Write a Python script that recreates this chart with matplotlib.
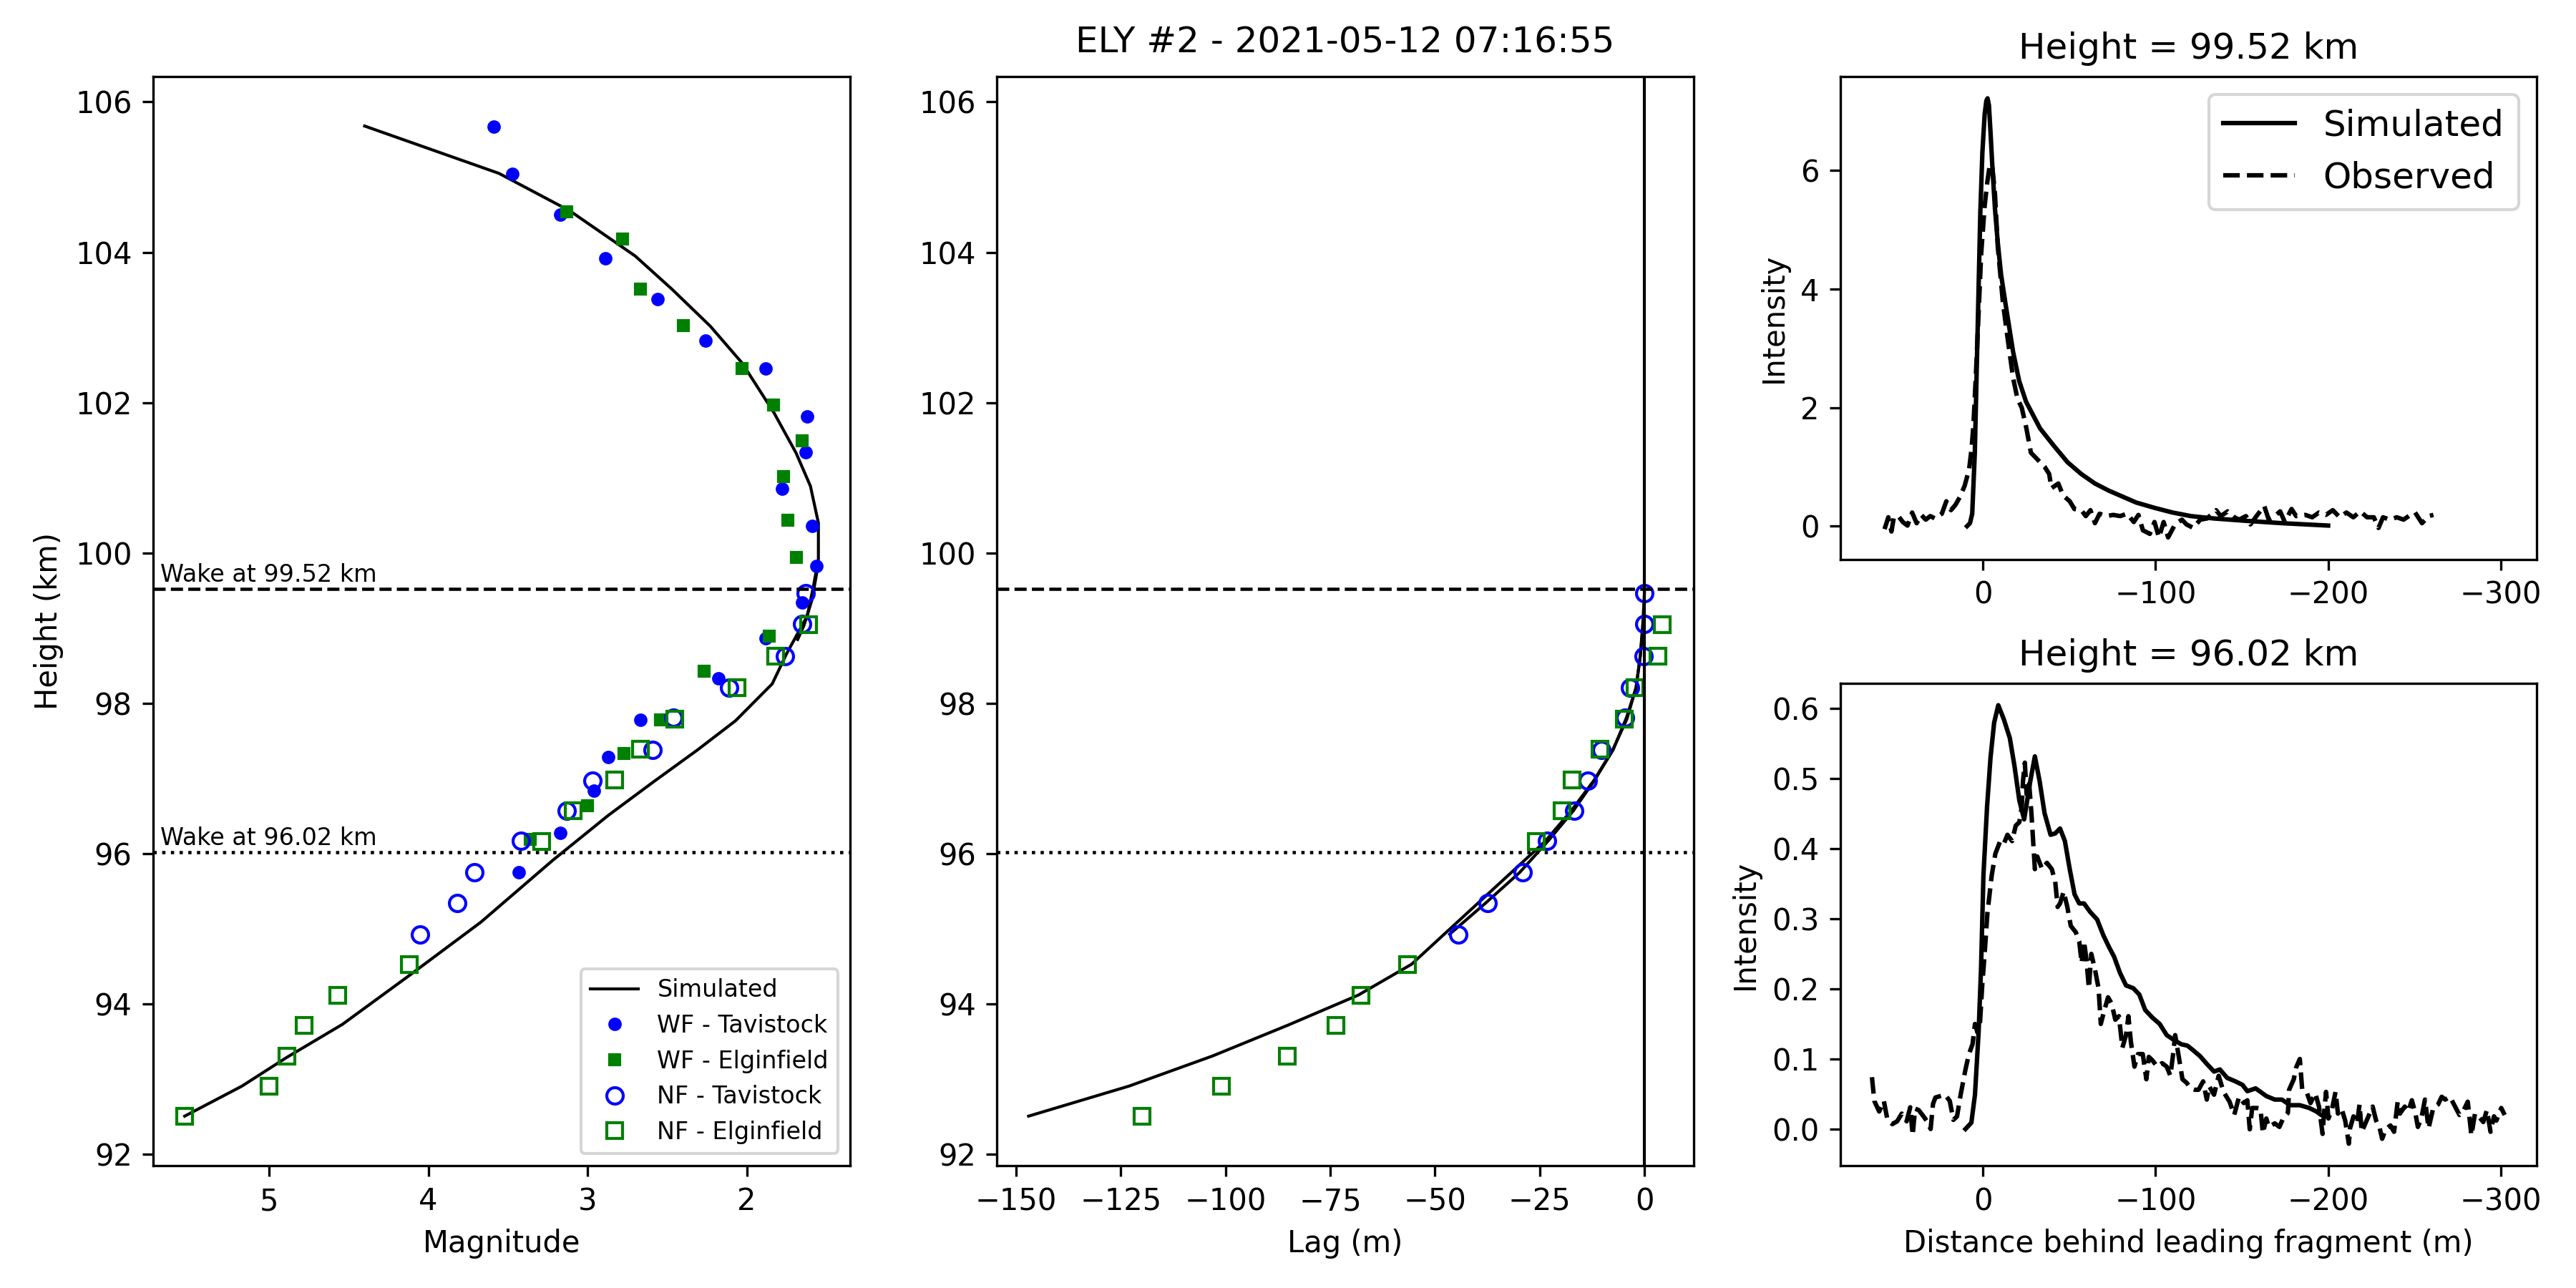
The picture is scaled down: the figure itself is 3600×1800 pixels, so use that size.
import numpy as np
import matplotlib
matplotlib.use("Agg")
import matplotlib.pyplot as plt
from matplotlib.ticker import MultipleLocator

# wake heights (km)
wake_heights = [99.52, 96.02]
wake_styles = ['--', ':']

# simulated magnitude along the trajectory
sim_height = [105.68, 105.05, 104.55, 103.95, 103.51, 103.02, 102.53, 101.87, 101.33,
              100.89, 100.40, 99.92, 99.57, 99.16, 98.97, 98.66, 98.26, 97.77, 97.38,
              96.95, 96.51, 95.91, 95.09, 94.38, 93.73, 93.29, 92.91, 92.51]
sim_mag = [4.40, 3.556, 3.11, 2.70, 2.47, 2.23, 2.03, 1.83, 1.69,
           1.60, 1.55, 1.55, 1.58, 1.62, 1.67, 1.75, 1.84, 2.07, 2.31,
           2.59, 2.87, 3.22, 3.67, 4.12, 4.54, 4.89, 5.17, 5.53]
sim2_height = [99.86, 99.38, 99.04, 98.85]
sim2_mag = [1.55, 1.59, 1.64, 1.68]

# wide field observations
wf_tav_height = [105.67, 105.04, 104.50, 103.92, 103.38, 102.83, 102.45, 101.82, 101.34, 100.86,
                 100.36, 99.83, 99.34, 98.87, 98.33, 97.78, 97.29, 96.84, 96.28, 95.75]
wf_tav_mag = [3.59, 3.47, 3.17, 2.89, 2.56, 2.26, 1.88, 1.62, 1.63, 1.78,
              1.59, 1.56, 1.65, 1.88, 2.18, 2.67, 2.87, 2.96, 3.17, 3.43]
wf_elg_height = [104.54, 104.18, 103.51, 103.03, 102.45, 101.97, 101.49, 101.02, 100.44, 99.94,
                 98.89, 98.43, 97.78, 97.33, 96.64, 96.19]
wf_elg_mag = [3.13, 2.78, 2.67, 2.40, 2.03, 1.83, 1.65, 1.77, 1.74, 1.69,
              1.86, 2.27, 2.54, 2.77, 3.00, 3.36]

# narrow field observations
nf_tav_height = [99.47, 99.06, 98.63, 98.21, 97.81, 97.38, 96.97, 96.57, 96.17, 95.75, 95.34, 94.93]
nf_tav_mag = [1.63, 1.65, 1.76, 2.11, 2.46, 2.59, 2.97, 3.13, 3.42, 3.71, 3.82, 4.05]
nf_tav_lag = [0.0, 0.0, -0.2, -3.4, -4.6, -10.2, -13.6, -16.8, -23.2, -29.0, -37.4, -44.5]
nf_tav_sim_lag = [0.0, -0.4, -1.0, -2.0, -4.3, -7.5, -12.0, -17.0, -23.0, -29.8, -38.0, -46.5]

nf_elg_height = [99.05, 98.63, 98.21, 97.79, 97.39, 96.98, 96.57, 96.16, 94.53, 94.12, 93.72,
                 93.31, 92.91, 92.51]
nf_elg_mag = [1.61, 1.82, 2.06, 2.45, 2.67, 2.83, 3.09, 3.29, 4.12, 4.57, 4.78, 4.89, 5.00, 5.53]
nf_elg_lag = [4.2, 3.2, -2.2, -4.8, -10.6, -17.2, -19.6, -25.8, -56.5, -67.7, -73.7, -85.3,
              -101.0, -120.0]
nf_elg_sim_lag = [-0.3, -1.0, -2.0, -4.2, -7.5, -12.0, -17.5, -23.8, -55.6, -68.3, -85.1,
                  -103.1, -123.0, -147.0]

# wake profiles at 99.52 km
top_sim_d = [9.2, 7.5, 6.2, 4.7, 3.7, 2.7, 1.5, 0.3, -1.0, -2.0, -2.7, -3.5, -4.5, -5.6, -7.0,
             -8.6, -10.5, -13.0, -17.5, -21.0, -25.0, -33.1, -41.0, -49.0, -57.0, -64.9, -72.9,
             -80.8, -88.7, -99.3, -109.9, -120.5, -133.8, -152.4, -173.5, -200.0]
top_sim_i = [0.0, 0.05, 0.21, 1.23, 2.5, 3.77, 5.3, 6.31, 6.95, 7.18, 7.22, 7.1, 6.6, 6.0, 5.35,
             4.79, 4.25, 3.77, 2.94, 2.45, 2.1, 1.65, 1.36, 1.08, 0.88, 0.72, 0.60,
             0.50, 0.40, 0.31, 0.23, 0.17, 0.13, 0.09, 0.05, 0.01]
top_obs_d = [57.0, 54.8, 53.0, 51.6, 49.0, 46.4, 43.7, 41.0, 38.4, 35.7, 33.1, 30.5, 27.8, 23.8,
             21.2, 18.5, 15.9, 13.2, 10.6, 8.0, 6.6, 5.5, 4.0, 2.5, 1.0, -1.0, -2.5, -4.0, -5.5,
             -7.0, -8.6, -11.6, -14.5, -17.5, -20.0, -22.5, -25.2, -27.8, -31.8, -35.8, -38.4,
             -39.7, -43.7, -46.4, -50.3, -53.0, -57.0, -59.6, -62.3, -64.9, -67.6, -71.5, -75.5,
             -79.5, -83.5, -87.4, -90.1, -92.7, -96.7, -99.4, -102.0, -104.7, -107.3, -111.3,
             -115.3, -117.9, -121.9, -125.9, -129.9, -135.1, -137.8, -141.8, -145.7, -148.4,
             -152.4, -155.0, -159.0, -163.0, -165.6, -168.3, -172.2, -174.9, -178.8, -181.5,
             -186.8, -190.8, -194.7, -198.7, -202.7, -206.7, -210.6, -214.6, -218.6, -222.6,
             -226.5, -229.2, -231.8, -235.8, -239.8, -243.7, -247.7, -250.4, -254.4, -258.3,
             -261.0]
top_obs_i = [-0.05, 0.15, -0.09, 0.15, 0.17, 0.07, 0.01, 0.23, 0.05, 0.19, 0.11, 0.17, 0.13, 0.21,
             0.42, 0.27, 0.36, 0.50, 0.68, 0.96, 1.3, 1.7, 2.6, 3.6, 4.6, 5.4, 5.8, 6.1, 6.05,
             5.6, 4.72, 3.77, 3.13, 2.5, 2.15, 2.0, 1.65, 1.24, 1.12, 1.0, 0.88,
             0.64, 0.72, 0.52, 0.42, 0.29, 0.27, 0.17, 0.27, 0.05, 0.21, 0.17, 0.19,
             0.17, 0.21, 0.07, 0.19, -0.07, -0.13, 0.07, -0.19, 0.07, -0.19, 0.03,
             0.11, 0.03, -0.03, 0.11, 0.13, 0.27, 0.17, 0.25, 0.15, 0.11,
             0.17, 0.03, 0.19, 0.34, 0.11, 0.15, 0.25, 0.07, 0.29, 0.17,
             0.19, 0.15, 0.23, 0.19, 0.27, 0.15, 0.23, 0.15, 0.25, 0.15,
             0.15, -0.03, 0.15, 0.11, 0.15, 0.11, 0.19, 0.23, 0.05, 0.17,
             0.19]

# wake profiles at 96.02 km
bot_sim_d = [10.1, 6.7, 4.6, 2.5, 1.1, -0.3, -2.4, -4.4, -6.5, -8.9, -12.1, -15.6, -18.3, -21.1,
             -23.9, -27.4, -30.1, -32.9, -35.7, -39.2, -41.9, -44.7, -47.5, -50.3, -53.1, -55.8,
             -58.6, -62.1, -66.2, -69.7, -73.2, -76.0, -79.4, -82.9, -87.1, -90.6, -94.0, -98.2,
             -102.4, -106.5, -110.7, -114.9, -118.5, -122.0, -125.8, -129.7, -133.9, -137.3,
             -141.5, -146.3, -150.4, -153.2, -158.0, -164.2, -169.1, -173.2, -178.0, -183.6,
             -189.1, -193.2, -196.0, -199.0]
bot_sim_i = [0.0, 0.009, 0.049, 0.138, 0.228, 0.362, 0.46, 0.53, 0.58, 0.605, 0.585, 0.558, 0.518,
             0.469, 0.442, 0.496, 0.532, 0.496, 0.451, 0.42, 0.422, 0.429, 0.411, 0.371, 0.335,
             0.322, 0.322, 0.31, 0.299, 0.277, 0.259, 0.246, 0.223, 0.205, 0.201, 0.192, 0.170,
             0.159, 0.150, 0.134, 0.127, 0.121, 0.119, 0.112, 0.104, 0.093, 0.082, 0.085,
             0.073, 0.068, 0.063, 0.054, 0.058, 0.047, 0.042, 0.042, 0.034, 0.034,
             0.030, 0.025, 0.020, 0.018]
bot_obs_d = [64.3, 62.9, 60.1, 57.4, 55.3, 52.5, 49.7, 47.0, 44.2, 42.1, 40.7, 39.3, 37.2, 34.4,
             32.4, 30.3, 28.9, 27.5, 24.7, 21.9, 19.2, 17.1, 15.0, 12.9, 10.1, 8.1, 6.0, 4.6,
             3.2, 1.8, 0.4, -1.0, -2.6, -5.1, -7.2, -10.0, -12.1, -14.2, -16.9, -19.0, -21.1,
             -22.5, -23.2, -24.3, -25.3, -26.7, -28.1, -30.1, -31.5, -34.3, -37.1, -39.9, -41.9,
             -43.3, -44.7, -46.8, -48.9, -50.9, -53.8, -55.8, -57.2, -58.6, -60.0, -61.4, -62.8,
             -64.9, -67.0, -68.3, -70.4, -72.5, -74.6, -76.7, -78.8, -80.8, -82.9, -84.3, -85.7,
             -87.8, -89.9, -92.6, -94.7, -96.1, -98.2, -101.0, -103.8, -106.5, -108.6, -110.0,
             -111.4, -113.5, -115.6, -118.0, -120.5, -122.8, -124.9, -127.6, -129.7, -131.1,
             -133.9, -136.6, -139.4, -142.9, -145.6, -148.4, -151.2, -153.2, -154.6, -156.0,
             -158.7, -160.8, -162.2, -164.2, -165.6, -169.1, -171.8, -173.9, -176.7, -177.4,
             -180.1, -181.5, -183.6, -184.3, -185.0, -187.8, -189.8, -192.6, -194.7, -196.8,
             -197.5, -198.8, -200.2, -202.3, -204.3, -205.7, -207.8, -209.9, -212.0, -212.7,
             -214.7, -216.8, -218.2, -219.5, -221.6, -223.7, -225.8, -227.8, -229.9, -231.3,
             -233.4, -236.1, -238.2, -240.3, -241.6, -244.4, -246.5, -248.5, -250.6, -252.0,
             -254.0, -256.1, -258.2, -260.9, -263.7, -265.8, -267.8, -270.6, -274.0, -276.1,
             -278.2, -280.9, -283.0, -285.1, -287.2, -289.9, -292.0, -294.1, -296.1, -297.5,
             -300.3, -302.3]
bot_obs_i = [0.074, 0.040, 0.025, 0.040, 0.013, 0.007, 0.011, 0.022, 0.011, 0.031, -0.009, 0.029,
             0.027, 0.018, 0.011, 0.0, 0.036, 0.045, 0.047, 0.049, 0.040, 0.013, 0.018, 0.049,
             0.085, 0.107, 0.121, 0.150, 0.138, 0.147, 0.205, 0.250, 0.308, 0.362, 0.393, 0.411,
             0.407, 0.42, 0.411, 0.433, 0.438, 0.46, 0.496, 0.523, 0.478, 0.496, 0.451, 0.371,
             0.389, 0.371, 0.38, 0.371, 0.353, 0.317, 0.322, 0.339, 0.317, 0.29, 0.281, 0.268,
             0.237, 0.268, 0.241, 0.201, 0.25, 0.228, 0.201, 0.15, 0.17, 0.188, 0.179, 0.156,
             0.161, 0.116, 0.134, 0.161, 0.125, 0.089, 0.107, 0.107, 0.071, 0.103, 0.098, 0.089,
             0.094, 0.089, 0.076, 0.103, 0.134, 0.103, 0.071, 0.066, 0.058, 0.056, 0.056, 0.068,
             0.042, 0.061, 0.049, 0.076, 0.053, 0.039, 0.020, 0.046, 0.037, 0.041, -0.0004,
             0.030, 0.030, 0.029, -0.006, 0.015, 0.003, 0.008, 0.003, 0.015, 0.023, 0.056,
             0.071, 0.088, 0.100, 0.078, 0.056, 0.051, 0.037, 0.051, 0.032, -0.007, 0.018,
             0.053, 0.015, 0.029, 0.053, 0.022, 0.029, 0.012, -0.021, 0.001, 0.018, 0.008,
             0.035, -0.004, 0.008, 0.020, 0.032, 0.012, 0.001, -0.014, 0.000, 0.005, -0.004,
             0.039, 0.022, 0.032, 0.025, 0.041, 0.022, 0.003, 0.015, 0.042, 0.001, 0.030,
             0.035, 0.046, 0.042, 0.046, 0.030, 0.020, 0.025, 0.039, -0.009, 0.022, 0.018,
             0.010, 0.027, -0.004, 0.018, 0.012, 0.030, 0.020]

fig = plt.figure(figsize=(12, 6), dpi=300)
ax1 = fig.add_axes([0.0594, 0.095, 0.2706, 0.8456])
ax2 = fig.add_axes([0.387, 0.095, 0.2705, 0.8456], sharey=ax1)
ax4 = fig.add_axes([0.7144, 0.095, 0.2702, 0.3745])
ax3 = fig.add_axes([0.7144, 0.5657, 0.2702, 0.375], sharex=ax4)

# magnitude panel
ax1.plot(sim_mag, sim_height, 'k-', lw=1, label='Simulated')
ax1.plot(sim2_mag, sim2_height, 'k-', lw=1)
ax1.plot(wf_tav_mag, wf_tav_height, 'o', color='blue', ms=3.5, label='WF - Tavistock')
ax1.plot(wf_elg_mag, wf_elg_height, 's', color='green', ms=3.5, label='WF - Elginfield')
ax1.plot(nf_tav_mag, nf_tav_height, 'o', mfc='none', mec='blue', ms=5.5, label='NF - Tavistock')
ax1.plot(nf_elg_mag, nf_elg_height, 's', mfc='none', mec='green', ms=5.5, label='NF - Elginfield')
ax1.invert_xaxis()
for h, ls in zip(wake_heights, wake_styles):
    ax1.axhline(h, color='k', ls=ls, lw=1.1)
    ax1.text(0.01, h + 0.1, 'Wake at {:.2f} km'.format(h), fontsize=8,
             transform=ax1.get_yaxis_transform(), va='baseline')
ax1.yaxis.set_major_locator(MultipleLocator(2))
ax1.xaxis.set_major_locator(MultipleLocator(1))
ax1.set_xlabel('Magnitude')
ax1.set_ylabel('Height (km)')
ax1.legend(loc='lower right', fontsize=8)

# lag panel
ax2.plot(nf_tav_sim_lag, nf_tav_height, 'k-', lw=1)
ax2.plot(nf_elg_sim_lag, nf_elg_height, 'k-', lw=1)
ax2.plot(nf_tav_lag, nf_tav_height, 'o', mfc='none', mec='blue', ms=5.5)
ax2.plot(nf_elg_lag, nf_elg_height, 's', mfc='none', mec='green', ms=5.5)
ax2.axvline(0, color='k', lw=1)
for h, ls in zip(wake_heights, wake_styles):
    ax2.axhline(h, color='k', ls=ls, lw=1.1)
ax2.xaxis.set_major_locator(MultipleLocator(25))
ax2.set_xlabel('Lag (m)')
ax2.set_title('ELY #2 - 2021-05-12 07:16:55', fontsize=12, pad=8)

# wake profiles
ax3.plot(top_sim_d, top_sim_i, 'k-', lw=1.5, label='Simulated')
ax3.plot(top_obs_d, top_obs_i, 'k--', lw=1.5, label='Observed')
ax3.set_ylabel('Intensity')
ax3.set_title('Height = {:.2f} km'.format(wake_heights[0]), fontsize=12)
ax3.legend(loc='upper right', fontsize=12)

ax4.plot(bot_sim_d, bot_sim_i, 'k-', lw=1.5)
ax4.plot(bot_obs_d, bot_obs_i, 'k--', lw=1.5)
ax4.invert_xaxis()
ax4.set_ylabel('Intensity')
ax4.set_xlabel('Distance behind leading fragment (m)')
ax4.set_title('Height = {:.2f} km'.format(wake_heights[1]), fontsize=12)
ax3.tick_params(labelbottom=True)

fig.savefig('out.png', dpi=300)
